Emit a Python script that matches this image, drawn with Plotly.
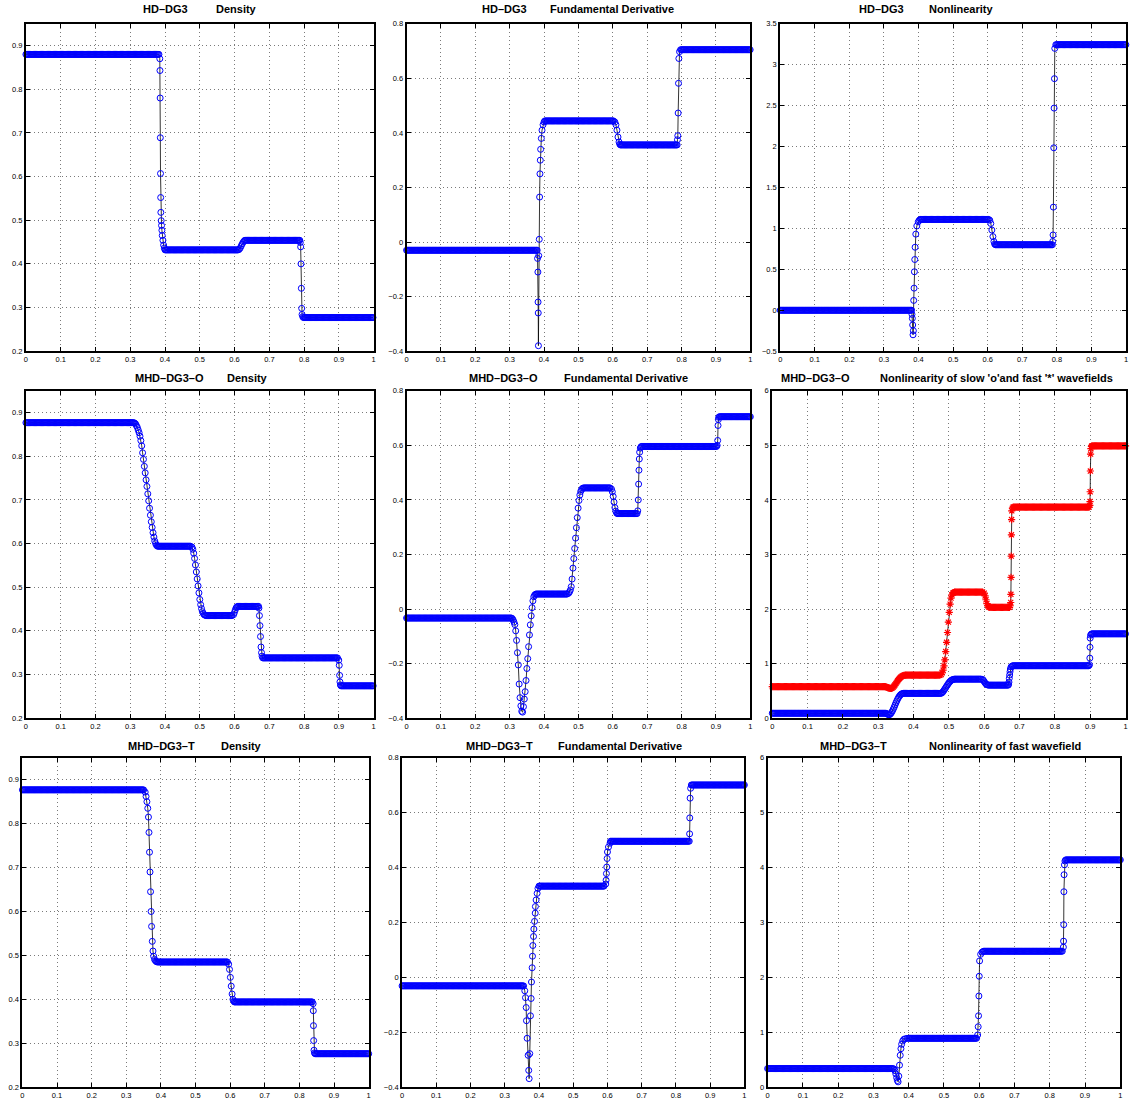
import numpy as np
import plotly.graph_objects as go

W, H = 1134, 1107
DX = 0.0025  # mesh spacing used for the plateau stretches

# ---------------- data ----------------
x_ticks = [0, 0.1, 0.2, 0.3, 0.4, 0.5, 0.6, 0.7, 0.8, 0.9, 1]
x_ticklabels = ["0", "0.1", "0.2", "0.3", "0.4", "0.5", "0.6", "0.7", "0.8", "0.9", "1"]

# plateaus: (x_start, x_end, level); transitions: explicit x / y lists
hd_rho_flat = [(0.0, 0.383, 0.880), (0.400, 0.611, 0.432), (0.630, 0.788, 0.454), (0.798, 1.0, 0.277)]
hd_rho_tx = [0.385, 0.3855, 0.386, 0.3865, 0.387, 0.3875, 0.388, 0.389, 0.390, 0.391, 0.392, 0.394, 0.396, 0.398,
             0.613, 0.616, 0.619, 0.622, 0.625, 0.628,
             0.789, 0.790, 0.791, 0.792, 0.793, 0.794, 0.796]
hd_rho_ty = [0.870, 0.843, 0.780, 0.689, 0.607, 0.552, 0.518, 0.499, 0.488, 0.477, 0.465, 0.454, 0.443, 0.436,
             0.433, 0.436, 0.441, 0.446, 0.450, 0.453,
             0.449, 0.439, 0.400, 0.344, 0.298, 0.284, 0.279]

hd_fd_flat = [(0.0, 0.380, -0.030), (0.402, 0.603, 0.444), (0.622, 0.787, 0.356), (0.797, 1.0, 0.705)]
hd_fd_tx = [0.381, 0.382, 0.3825, 0.383, 0.3835, 0.3845, 0.386, 0.387, 0.388, 0.389, 0.390, 0.392, 0.394, 0.397, 0.400,
            0.606, 0.609, 0.612, 0.615, 0.618, 0.620,
            0.788, 0.789, 0.790, 0.791, 0.792, 0.794]
hd_fd_ty = [-0.06, -0.11, -0.22, -0.26, -0.38, -0.05, 0.01, 0.165, 0.25, 0.30, 0.34, 0.38, 0.41, 0.43, 0.44,
            0.44, 0.43, 0.41, 0.385, 0.367, 0.359,
            0.375, 0.39, 0.473, 0.582, 0.673, 0.698]

hd_nl_flat = [(0.0, 0.380, 0.0), (0.405, 0.603, 1.11), (0.622, 0.787, 0.80), (0.797, 1.0, 3.245)]
hd_nl_tx = [0.381, 0.382, 0.383, 0.384, 0.385, 0.386, 0.387, 0.388, 0.389, 0.390, 0.392, 0.395, 0.399, 0.402,
            0.606, 0.609, 0.612, 0.615, 0.618, 0.620,
            0.788, 0.789, 0.790, 0.791, 0.792, 0.793, 0.794]
hd_nl_ty = [-0.05, -0.10, -0.18, -0.30, -0.25, 0.12, 0.27, 0.47, 0.62, 0.77, 0.93, 1.03, 1.08, 1.10,
            1.10, 1.06, 0.98, 0.90, 0.84, 0.81,
            0.84, 0.92, 1.26, 1.985, 2.47, 2.83, 3.20]

mo_rho_flat = [(0.0, 0.311, 0.877), (0.378, 0.475, 0.594), (0.520, 0.594, 0.435), (0.609, 0.669, 0.456),
               (0.681, 0.898, 0.338), (0.906, 1.0, 0.274)]
mo_rho_tx = [0.313, 0.3155, 0.318, 0.3205, 0.323, 0.3255, 0.328, 0.3305, 0.333, 0.3355, 0.338, 0.3405, 0.343,
             0.3455, 0.348, 0.3505, 0.353, 0.3555, 0.358, 0.3605, 0.363, 0.3655, 0.368, 0.3705, 0.373, 0.3755,
             0.4775, 0.480, 0.4825, 0.485, 0.4875, 0.490, 0.4925, 0.495, 0.4975, 0.500, 0.5025, 0.505, 0.5075,
             0.510, 0.5125, 0.515, 0.5175,
             0.597, 0.5995, 0.602, 0.6045, 0.607,
             0.670, 0.6715, 0.673, 0.6745, 0.676, 0.6775, 0.679,
             0.8995, 0.901, 0.902, 0.903, 0.9045]
mo_rho_ty = [0.876, 0.874, 0.870, 0.866, 0.860, 0.854, 0.846, 0.836, 0.824, 0.808, 0.793, 0.777, 0.762,
             0.746, 0.731, 0.714, 0.698, 0.681, 0.665, 0.650, 0.637, 0.625, 0.615, 0.606, 0.600, 0.596,
             0.592, 0.587, 0.578, 0.566, 0.551, 0.535, 0.519, 0.503, 0.487, 0.472, 0.460, 0.451, 0.444,
             0.440, 0.437, 0.436, 0.435,
             0.437, 0.442, 0.448, 0.453, 0.455,
             0.452, 0.435, 0.412, 0.387, 0.363, 0.350, 0.342,
             0.333, 0.321, 0.298, 0.283, 0.276]

mo_fd_flat = [(0.0, 0.305, -0.033), (0.377, 0.469, 0.055), (0.517, 0.593, 0.444), (0.613, 0.671, 0.350),
              (0.684, 0.902, 0.596), (0.910, 1.0, 0.705)]
mo_fd_tx = [0.3075, 0.310, 0.3125, 0.315, 0.3175, 0.320, 0.3225, 0.325, 0.3275, 0.330, 0.3325, 0.335, 0.3375,
            0.340, 0.3425, 0.345, 0.3475, 0.350, 0.3525, 0.355, 0.3575, 0.360, 0.3625, 0.365, 0.3675, 0.370,
            0.3725, 0.375,
            0.4715, 0.474, 0.4765, 0.479, 0.4815, 0.484, 0.4865, 0.489, 0.4915, 0.494, 0.4965, 0.499, 0.5015,
            0.504, 0.5065, 0.509, 0.5115, 0.514,
            0.596, 0.5985, 0.601, 0.6035, 0.606, 0.6085, 0.611,
            0.6725, 0.674, 0.675, 0.676, 0.677, 0.678, 0.680, 0.682,
            0.9035, 0.905, 0.906, 0.907, 0.908]
mo_fd_ty = [-0.035, -0.040, -0.048, -0.057, -0.080, -0.115, -0.160, -0.205, -0.275, -0.325, -0.355, -0.375, -0.378,
            -0.358, -0.330, -0.303, -0.262, -0.218, -0.182, -0.138, -0.095, -0.058, -0.025, 0.005, 0.030, 0.045,
            0.051, 0.054,
            0.058, 0.063, 0.070, 0.082, 0.110, 0.150, 0.185, 0.222, 0.260, 0.298, 0.335, 0.370, 0.398,
            0.418, 0.431, 0.438, 0.442, 0.444,
            0.440, 0.430, 0.413, 0.392, 0.372, 0.359, 0.352,
            0.360, 0.400, 0.458, 0.509, 0.550, 0.575, 0.590, 0.595,
            0.600, 0.618, 0.673, 0.695, 0.703]

mo_fast_flat = [(0.0, 0.320, 0.576), (0.377, 0.476, 0.787), (0.518, 0.597, 2.31), (0.614, 0.672, 2.03),
                (0.682, 0.897, 3.87), (0.905, 1.0, 4.99)]
mo_fast_tx = [0.3225, 0.325, 0.3275, 0.330, 0.3325, 0.335, 0.3375, 0.340, 0.3425, 0.345, 0.3475, 0.350, 0.3525,
              0.355, 0.3575, 0.360, 0.3625, 0.365, 0.3675, 0.370, 0.3725, 0.375,
              0.4785, 0.481, 0.4835, 0.486, 0.4885, 0.491, 0.4935, 0.496, 0.4985, 0.501, 0.5035, 0.506, 0.5085,
              0.511, 0.5135, 0.516,
              0.600, 0.6025, 0.605, 0.6075, 0.610, 0.6125,
              0.6735, 0.675, 0.6755, 0.676, 0.6765, 0.677, 0.6775, 0.678, 0.680,
              0.899, 0.8995, 0.900, 0.9005, 0.901, 0.902, 0.9035]
mo_fast_ty = [0.572, 0.566, 0.558, 0.550, 0.545, 0.543, 0.546, 0.555, 0.570, 0.590, 0.612, 0.636, 0.660,
              0.684, 0.707, 0.727, 0.745, 0.759, 0.770, 0.778, 0.783, 0.786,
              0.80, 0.83, 0.88, 0.96, 1.07, 1.22, 1.39, 1.57, 1.76, 1.94, 2.09, 2.20, 2.26,
              2.29, 2.30, 2.31,
              2.29, 2.24, 2.17, 2.10, 2.06, 2.04,
              2.06, 2.12, 2.27, 2.58, 2.97, 3.36, 3.64, 3.80, 3.85,
              3.90, 3.97, 4.15, 4.53, 4.84, 4.94, 4.98]

mo_slow_flat = [(0.0, 0.320, 0.090), (0.372, 0.477, 0.455), (0.516, 0.593, 0.715), (0.613, 0.668, 0.605),
                (0.681, 0.897, 0.960), (0.905, 1.0, 1.545)]
mo_slow_tx = [0.3225, 0.325, 0.3275, 0.330, 0.3325, 0.335, 0.3375, 0.340, 0.3425, 0.345, 0.3475, 0.350, 0.3525,
              0.355, 0.3575, 0.360, 0.3625, 0.365, 0.3675, 0.370,
              0.479, 0.4815, 0.484, 0.4865, 0.489, 0.4915, 0.494, 0.4965, 0.499, 0.5015, 0.504, 0.5065, 0.509,
              0.5115, 0.514,
              0.5955, 0.598, 0.6005, 0.603, 0.6055, 0.608, 0.6105,
              0.669, 0.670, 0.671, 0.672, 0.673, 0.674, 0.676, 0.679,
              0.898, 0.899, 0.8995, 0.900, 0.901, 0.903]
mo_slow_ty = [0.088, 0.080, 0.068, 0.062, 0.066, 0.080, 0.103, 0.130, 0.165, 0.200, 0.240, 0.280, 0.315,
              0.350, 0.380, 0.405, 0.425, 0.440, 0.448, 0.452,
              0.46, 0.47, 0.49, 0.515, 0.54, 0.565, 0.59, 0.615, 0.638, 0.66, 0.678, 0.692, 0.702,
              0.708, 0.712,
              0.71, 0.69, 0.665, 0.64, 0.622, 0.612, 0.607,
              0.62, 0.66, 0.73, 0.79, 0.85, 0.90, 0.94, 0.955,
              0.98, 1.10, 1.30, 1.467, 1.52, 1.54]

mt_rho_flat = [(0.0, 0.352, 0.877), (0.392, 0.593, 0.485), (0.612, 0.838, 0.394), (0.845, 1.0, 0.276)]
mt_rho_tx = [0.3545, 0.357, 0.3595, 0.362, 0.364, 0.3655, 0.367, 0.3685, 0.370, 0.3715, 0.373, 0.375, 0.377,
             0.379, 0.3815, 0.384, 0.3865, 0.389,
             0.5955, 0.598, 0.6005, 0.603, 0.6055, 0.608, 0.6105,
             0.8395, 0.840, 0.8405, 0.841, 0.842, 0.8435]
mt_rho_ty = [0.872, 0.862, 0.850, 0.835, 0.815, 0.780, 0.735, 0.690, 0.645, 0.600, 0.566, 0.532, 0.510,
             0.498, 0.491, 0.488, 0.486, 0.485,
             0.480, 0.468, 0.450, 0.430, 0.412, 0.400, 0.396,
             0.390, 0.374, 0.340, 0.306, 0.284, 0.278]

mt_fd_flat = [(0.0, 0.355, -0.031), (0.400, 0.592, 0.3325), (0.609, 0.839, 0.496), (0.845, 1.0, 0.701)]
mt_fd_tx = [0.3585, 0.3605, 0.3625, 0.3634, 0.3654, 0.3683, 0.370, 0.3712, 0.373, 0.375, 0.377, 0.378, 0.380,
            0.381, 0.382, 0.384, 0.385, 0.387, 0.389, 0.3895, 0.3916, 0.3945, 0.397,
            0.595, 0.596, 0.597, 0.598, 0.599, 0.600, 0.603, 0.6076,
            0.840, 0.8405, 0.8415, 0.843]
mt_fd_ty = [-0.049, -0.074, -0.110, -0.158, -0.222, -0.284, -0.339, -0.369, -0.278, -0.140, -0.077, -0.017, 0.035,
            0.077, 0.116, 0.149, 0.176, 0.204, 0.234, 0.258, 0.282, 0.306, 0.324,
            0.340, 0.354, 0.378, 0.402, 0.433, 0.457, 0.475, 0.489,
            0.523, 0.581, 0.653, 0.689]

mt_nl_flat = [(0.0, 0.356, 0.338), (0.400, 0.594, 0.890), (0.613, 0.837, 2.476), (0.845, 1.0, 4.14)]
mt_nl_tx = [0.3585, 0.361, 0.3635, 0.366, 0.368, 0.370, 0.372, 0.374, 0.376, 0.378, 0.380, 0.383, 0.386, 0.390, 0.395,
            0.5955, 0.597, 0.598, 0.599, 0.600, 0.601, 0.604, 0.608, 0.611,
            0.8385, 0.839, 0.8395, 0.840, 0.8405, 0.8415, 0.843]
mt_nl_ty = [0.33, 0.30, 0.24, 0.17, 0.12, 0.096, 0.20, 0.40, 0.58, 0.70, 0.78, 0.84, 0.87, 0.88, 0.888,
            0.95, 1.10, 1.30, 1.66, 2.02, 2.30, 2.42, 2.46, 2.47,
            2.55, 2.66, 2.96, 3.56, 3.87, 4.05, 4.12]

# ---------------- layout of the 3x3 panels (pixel boxes) ----------------
panels = [
    # (x0, x1, y0, y1, yrange, dtick, titleL, cxL, titleR, cxR, ty)
    (24, 373, 20, 350, [0.2, 0.95], 0.1, "HD–DG3", 164, "Density", 235, 5),
    (406, 751, 20, 350, [-0.4, 0.8], 0.2, "HD–DG3", 504.5, "Fundamental Derivative", 612, 5),
    (781, 1128, 20, 350, [-0.5, 3.5], 0.5, "HD–DG3", 883, "Nonlinearity", 962.5, 5),
    (24, 373, 390, 720, [0.2, 0.95], 0.1, "MHD–DG3–O", 168, "Density", 246.5, 377),
    (406, 751, 390, 720, [-0.4, 0.8], 0.2, "MHD–DG3–O", 503.5, "Fundamental Derivative", 626, 377),
    (773, 1127.5, 390, 720, [0, 6], 1, "MHD–DG3–O", 816, "Nonlinearity of slow 'o'and fast '*' wavefields", 998, 377),
    (20.5, 368, 760, 1092, [0.2, 0.95], 0.1, "MHD–DG3–T", 160, "Density", 240.5, 748),
    (401.5, 745, 760, 1092, [-0.4, 0.8], 0.2, "MHD–DG3–T", 499, "Fundamental Derivative", 620.5, 748),
    (768.3, 1122.3, 760, 1092, [0, 6], 1, "MHD–DG3–T", 854.5, "Nonlinearity of fast wavefield", 1006.5, 748),
]

curves = [
    (0, hd_rho_flat, hd_rho_tx, hd_rho_ty, "o"),
    (1, hd_fd_flat, hd_fd_tx, hd_fd_ty, "o"),
    (2, hd_nl_flat, hd_nl_tx, hd_nl_ty, "o"),
    (3, mo_rho_flat, mo_rho_tx, mo_rho_ty, "o"),
    (4, mo_fd_flat, mo_fd_tx, mo_fd_ty, "o"),
    (5, mo_fast_flat, mo_fast_tx, mo_fast_ty, "*"),
    (5, mo_slow_flat, mo_slow_tx, mo_slow_ty, "o"),
    (6, mt_rho_flat, mt_rho_tx, mt_rho_ty, "o"),
    (7, mt_fd_flat, mt_fd_tx, mt_fd_ty, "o"),
    (8, mt_nl_flat, mt_nl_tx, mt_nl_ty, "o"),
]


def build(flat, tx, ty):
    xs = list(tx)
    ys = list(ty)
    for x0, x1, lev in flat:
        g = np.arange(x0, x1 + 1e-9, DX)
        xs += list(g)
        ys += [lev] * len(g)
    xs = np.array(xs)
    ys = np.array(ys)
    order = np.argsort(xs, kind="stable")
    return xs[order], ys[order]


fig = go.Figure()
FONT = "Liberation Sans, Arial, Helvetica, sans-serif"
GRID = dict(showgrid=True, gridcolor="#7a7a7a", griddash="1px,3px", gridwidth=1)

for k, (x0, x1, y0, y1, yr, dt, tl, cxl, tr, cxr, tyy) in enumerate(panels):
    n = "" if k == 0 else str(k + 1)
    ax = dict(
        domain=[x0 / W, x1 / W], range=[0, 1], anchor="y" + n,
        tickvals=x_ticks, ticktext=x_ticklabels, **GRID,
        showline=True, linecolor="black", linewidth=2, mirror="allticks",
        ticks="inside", ticklen=4, tickwidth=1, tickcolor="black",
        zeroline=False, tickfont=dict(family=FONT, size=7.5, color="black"),
    )
    ay = dict(
        domain=[1 - y1 / H, 1 - y0 / H], range=yr, anchor="x" + n,
        tick0=yr[0], dtick=dt, **GRID,
        showline=True, linecolor="black", linewidth=2, mirror="allticks",
        ticks="inside", ticklen=4, tickwidth=1, tickcolor="black",
        zeroline=False, tickfont=dict(family=FONT, size=7.5, color="black"),
    )
    fig.layout["xaxis" + n] = ax
    fig.layout["yaxis" + n] = ay
    for txt, cx in ((tl, cxl), (tr, cxr)):
        fig.add_annotation(text="<b>" + txt + "</b>", x=cx / W, y=1 - tyy / H, xref="paper", yref="paper",
                           xanchor="center", yanchor="middle", showarrow=False,
                           font=dict(family=FONT, size=11, color="black"))

for k, flat, tx, ty, sym in curves:
    n = "" if k == 0 else str(k + 1)
    xs, ys = build(flat, tx, ty)
    if sym == "o":
        marker = dict(symbol="circle-open", size=6, color="#0000ff", line=dict(width=1, color="#0000ff"))
    else:
        marker = dict(symbol="asterisk-open", size=6, color="#ff0000", line=dict(width=1.2, color="#ff0000"))
    fig.add_trace(go.Scatter(x=xs, y=ys, mode="lines+markers", xaxis="x" + n, yaxis="y" + n,
                             line=dict(color="black", width=0.8), marker=marker,
                             cliponaxis=False, showlegend=False, hoverinfo="skip"))

fig.update_layout(width=W, height=H, margin=dict(l=0, r=0, t=0, b=0),
                  paper_bgcolor="white", plot_bgcolor="white", showlegend=False)
fig.write_html("out.html")
